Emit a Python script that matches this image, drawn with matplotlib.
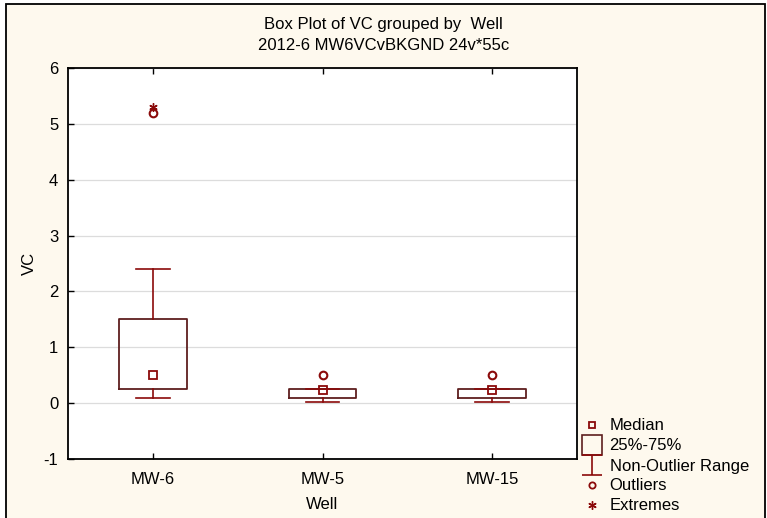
import matplotlib
matplotlib.use("Agg")
import matplotlib.pyplot as plt
from matplotlib.lines import Line2D
from matplotlib.patches import Rectangle
from matplotlib.path import Path

plt.rcParams['font.family'] = ['Liberation Sans', 'DejaVu Sans']
plt.rcParams['axes.unicode_minus'] = False

# box plot statistics for VC by well
wells = ['MW-6', 'MW-5', 'MW-15']
medians = [0.5, 0.24, 0.24]
q1 = [0.25, 0.1, 0.1]
q3 = [1.5, 0.25, 0.25]
whisk_lo = [0.1, 0.02, 0.02]
whisk_hi = [2.4, 0.25, 0.25]
outliers = [[5.2], [0.5], [0.5]]
extremes = [[5.3], [], []]

box_col = '#5E1F1F'
red = '#8B0A0A'
panel_col = '#FEF9EE'

fig = plt.figure(figsize=(7.67, 5.18), dpi=100)
fig.patch.set_facecolor('white')

# cream panel behind everything
fig.add_artist(Rectangle((6 / 767, -0.1), (765 - 6) / 767, 1.1 - 4.5 / 518,
                         transform=fig.transFigure, facecolor=panel_col,
                         edgecolor='black', linewidth=1.3, zorder=-5))

ax = fig.add_axes([68 / 767, 1 - 459 / 518, (577 - 68) / 767, (459 - 68) / 518])
ax.set_facecolor('white')

positions = list(range(1, len(wells) + 1))
stats = []
for i, w in enumerate(wells):
    stats.append(dict(label=w, med=medians[i], q1=q1[i], q3=q3[i],
                      whislo=whisk_lo[i], whishi=whisk_hi[i], fliers=[]))

ax.bxp(stats, positions=positions, widths=0.4, capwidths=0.2,
       showfliers=False, patch_artist=False,
       boxprops=dict(color=box_col, linewidth=1.3),
       whiskerprops=dict(color=red, linewidth=1.2),
       capprops=dict(color=red, linewidth=1.2),
       medianprops=dict(linestyle='none'))

ax.plot(positions, medians, ls='none', marker='s', ms=6, mfc='none',
        mec=red, mew=1.3, zorder=4)
for p, vals in zip(positions, outliers):
    ax.plot([p] * len(vals), vals, ls='none', marker='o', ms=5.5, mfc='none',
            mec=red, mew=1.5, zorder=4)
for p, vals in zip(positions, extremes):
    ax.plot([p] * len(vals), vals, ls='none', marker=(6, 2, 0), ms=6,
            color=red, mew=1.0, zorder=4)

ax.set_xlim(0.5, 3.5)
ax.set_ylim(-1, 6)
ax.set_yticks(range(-1, 7))
ax.set_xticks(positions)
ax.set_xticklabels(wells)
ax.yaxis.grid(True, color='#DCDCDC', linewidth=0.9)
ax.set_axisbelow(True)
ax.tick_params(axis='y', direction='in', length=4, width=1, pad=7, labelsize=12)
ax.tick_params(axis='x', direction='in', length=4, width=1, pad=9, labelsize=12,
               top=True)
for s in ax.spines.values():
    s.set_linewidth(1.3)

ax.set_xlabel('Well', fontsize=12)
ax.set_ylabel('VC', fontsize=12)
ax.xaxis.set_label_coords(0.5, -0.098)
ax.yaxis.set_label_coords(-0.062, 0.5)

fig.text(0.5, 1 - 25 / 518, 'Box Plot of VC grouped by  Well', ha='center',
         va='center', fontsize=12)
fig.text(0.5, 1 - 45 / 518, '2012-6 MW6VCvBKGND 24v*55c', ha='center',
         va='center', fontsize=12)

# legend keys
ibeam = Path([(-1, 1), (1, 1), (0, 1), (0, -1), (-1, -1), (1, -1)],
             [Path.MOVETO, Path.LINETO, Path.MOVETO, Path.LINETO,
              Path.MOVETO, Path.LINETO])
handles = [
    Line2D([], [], ls='none', marker='s', ms=5, mfc='none', mec=red, mew=1.3),
    Line2D([], [], ls='none', marker='s', ms=15, mfc='none', mec=box_col, mew=1.2),
    Line2D([], [], ls='none', marker=ibeam, ms=14, color=red, mew=1.2),
    Line2D([], [], ls='none', marker='o', ms=4.5, mfc='none', mec=red, mew=1.3),
    Line2D([], [], ls='none', marker=(6, 2, 0), ms=6, color=red, mew=1.0),
]
labels = ['Median', '25%-75%', 'Non-Outlier Range', 'Outliers', 'Extremes']
fig.legend(handles, labels, loc='center left',
           bbox_to_anchor=(582 / 767, 1 - 466 / 518), frameon=False,
           fontsize=12, handlelength=1.2, handletextpad=0.45,
           labelspacing=0.3, borderpad=0, borderaxespad=0)

fig.savefig('out.png', dpi=100)
